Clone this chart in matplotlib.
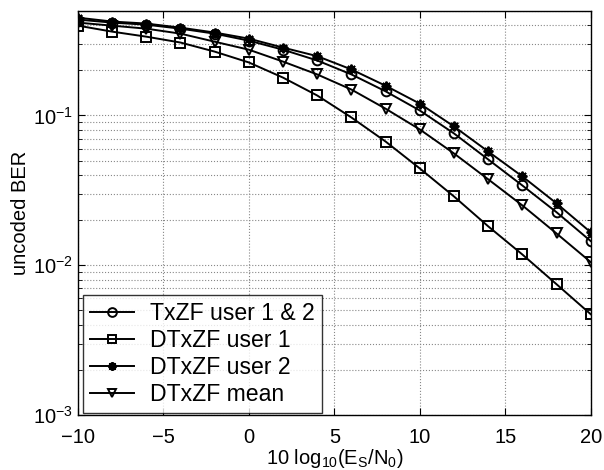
import numpy as np
import matplotlib
matplotlib.use("Agg")
import matplotlib.pyplot as plt
from matplotlib.ticker import LogLocator, MultipleLocator, NullFormatter

plt.rcParams['font.family'] = ['Liberation Sans', 'DejaVu Sans']
plt.rcParams['mathtext.fontset'] = 'custom'
plt.rcParams['mathtext.rm'] = 'Liberation Sans'
plt.rcParams['mathtext.it'] = 'Liberation Sans'

snr = [-10, -8, -6, -4, -2, 0, 2, 4, 6, 8, 10, 12, 14, 16, 18, 20]

txzf = [0.437, 0.417, 0.404, 0.380, 0.352, 0.316, 0.275, 0.233, 0.188, 0.145,
        0.108, 0.0759, 0.0509, 0.0341, 0.0226, 0.0145]
dtxzf_u1 = [0.398, 0.363, 0.336, 0.307, 0.267, 0.226, 0.179, 0.136, 0.097, 0.067,
            0.0443, 0.0288, 0.0182, 0.0118, 0.00747, 0.00471]
dtxzf_u2 = [0.450, 0.424, 0.411, 0.386, 0.358, 0.326, 0.284, 0.249, 0.203, 0.158,
            0.120, 0.0845, 0.0575, 0.0392, 0.0259, 0.0166]
dtxzf_mean = [0.417, 0.398, 0.380, 0.352, 0.311, 0.275, 0.229, 0.188, 0.149, 0.111,
              0.0807, 0.0558, 0.0375, 0.0251, 0.0163, 0.0105]

fig = plt.figure(figsize=(6.04, 4.70), dpi=100)
ax = fig.add_axes([0.129, 0.117, 0.849, 0.860])

style = dict(color='black', lw=1.4, markersize=7, markerfacecolor='none',
             markeredgewidth=1.4)
ax.semilogy(snr, txzf, marker='o', label='TxZF user 1 & 2', **style)
ax.semilogy(snr, dtxzf_u1, marker='s', label='DTxZF user 1', **style)
ax.semilogy(snr, dtxzf_u2, marker=(8, 2, 0), label='DTxZF user 2', **style)
ax.semilogy(snr, dtxzf_mean, marker='v', label='DTxZF mean', **style)

ax.set_xlim(-10, 20)
ax.set_ylim(1e-3, 0.5)
ax.xaxis.set_major_locator(MultipleLocator(5))
ax.yaxis.set_major_locator(LogLocator(base=10, numticks=10))
ax.yaxis.set_minor_locator(LogLocator(base=10, subs=np.arange(2, 10), numticks=10))
ax.yaxis.set_minor_formatter(NullFormatter())

ax.grid(True, which='major', linestyle=':', color='#888888', lw=0.8)
ax.grid(True, which='minor', axis='y', linestyle=':', color='#888888', lw=0.8)
ax.tick_params(which='both', direction='in', top=True, right=True, labelsize=14.5)
ax.tick_params(which='major', length=5)
ax.tick_params(which='minor', length=3)
ax.tick_params(axis='x', pad=9)
for sp in ax.spines.values():
    sp.set_linewidth(1.0)

ax.set_xlabel(r'10 log$_{10}$(E$_S$/N$_0$)', fontsize=14.5, labelpad=0)
ax.set_ylabel('uncoded BER', fontsize=14.5, labelpad=2)

leg = ax.legend(loc='lower left', bbox_to_anchor=(0.01, 0.005), borderaxespad=0,
                fontsize=16.6, frameon=True, fancybox=False, edgecolor='black',
                handlelength=1.9, borderpad=0.3, labelspacing=0.18,
                handletextpad=0.7, markerscale=0.9)
leg.get_frame().set_linewidth(1.0)

fig.savefig('out.png', dpi=100)
